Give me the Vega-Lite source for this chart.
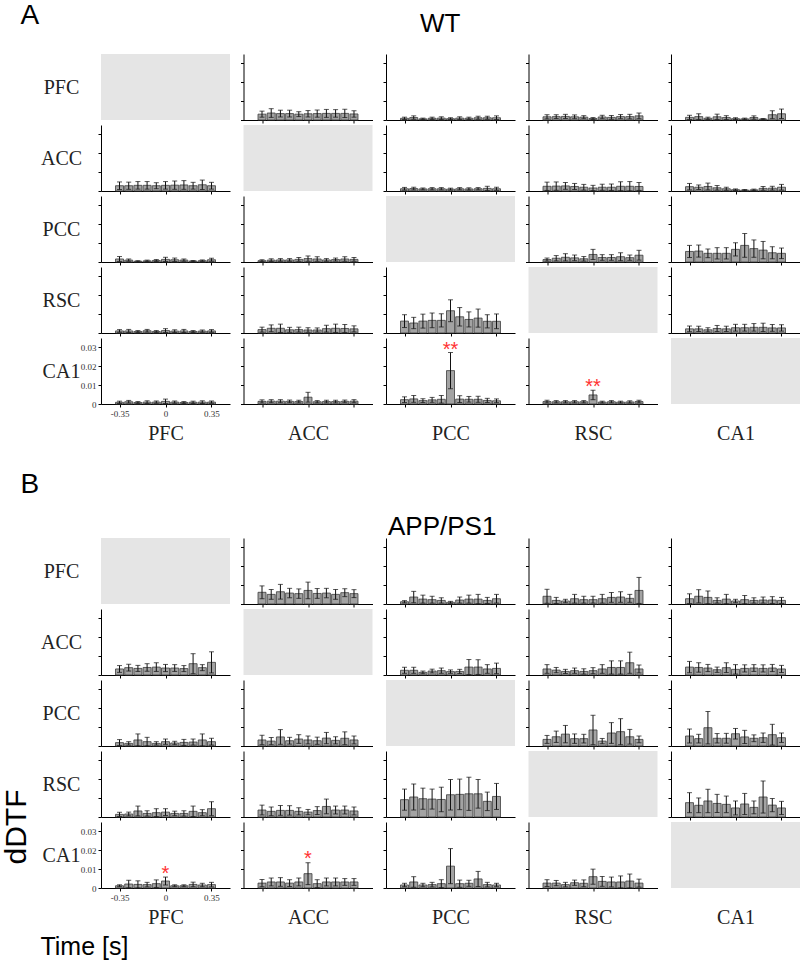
{
"$schema":"https://vega.github.io/schema/vega-lite/v6.json",
"padding":{"left":2,"top":2,"right":0,"bottom":0},
"datasets":{
"s":[
{"g":"A","r":"CA1","c":"PCC","t":0,"m":0.031,"s":"**"},
{"g":"A","r":"CA1","c":"RSC","t":0,"m":0.0113,"s":"**"},
{"g":"B","r":"CA1","c":"PFC","t":0,"m":0.0096,"s":"*"},
{"g":"B","r":"CA1","c":"ACC","t":0,"m":0.0176,"s":"*"}
],
"d":[
{"g":"A","r":"PFC","c":"ACC","t":-0.35,"m":0.0031,"e":0.0016},{"g":"A","r":"PFC","c":"ACC","t":-0.28,"m":0.0037,"e":0.0023},{"g":"A","r":"PFC","c":"ACC","t":-0.21,"m":0.0034,"e":0.0018},{"g":"A","r":"PFC","c":"ACC","t":-0.14,"m":0.0034,"e":0.0018},{"g":"A","r":"PFC","c":"ACC","t":-0.07,"m":0.0031,"e":0.0013},{"g":"A","r":"PFC","c":"ACC","t":0,"m":0.0033,"e":0.0017},{"g":"A","r":"PFC","c":"ACC","t":0.07,"m":0.0034,"e":0.0019},{"g":"A","r":"PFC","c":"ACC","t":0.14,"m":0.0035,"e":0.0021},{"g":"A","r":"PFC","c":"ACC","t":0.21,"m":0.0035,"e":0.002},{"g":"A","r":"PFC","c":"ACC","t":0.28,"m":0.0035,"e":0.0022},{"g":"A","r":"PFC","c":"ACC","t":0.35,"m":0.0032,"e":0.0017},
{"g":"A","r":"PFC","c":"PCC","t":-0.35,"m":0.0009,"e":0.0006},{"g":"A","r":"PFC","c":"PCC","t":-0.28,"m":0.0013,"e":0.0009},{"g":"A","r":"PFC","c":"PCC","t":-0.21,"m":0.0006,"e":0.0004},{"g":"A","r":"PFC","c":"PCC","t":-0.14,"m":0.0009,"e":0.0006},{"g":"A","r":"PFC","c":"PCC","t":-0.07,"m":0.001,"e":0.0007},{"g":"A","r":"PFC","c":"PCC","t":0,"m":0.0007,"e":0.0005},{"g":"A","r":"PFC","c":"PCC","t":0.07,"m":0.001,"e":0.0007},{"g":"A","r":"PFC","c":"PCC","t":0.14,"m":0.0009,"e":0.0006},{"g":"A","r":"PFC","c":"PCC","t":0.21,"m":0.0012,"e":0.0008},{"g":"A","r":"PFC","c":"PCC","t":0.28,"m":0.0012,"e":0.0008},{"g":"A","r":"PFC","c":"PCC","t":0.35,"m":0.0012,"e":0.001},
{"g":"A","r":"PFC","c":"RSC","t":-0.35,"m":0.0017,"e":0.0011},{"g":"A","r":"PFC","c":"RSC","t":-0.28,"m":0.0018,"e":0.001},{"g":"A","r":"PFC","c":"RSC","t":-0.21,"m":0.0019,"e":0.0011},{"g":"A","r":"PFC","c":"RSC","t":-0.14,"m":0.0017,"e":0.001},{"g":"A","r":"PFC","c":"RSC","t":-0.07,"m":0.0015,"e":0.0008},{"g":"A","r":"PFC","c":"RSC","t":0,"m":0.0008,"e":0.0005},{"g":"A","r":"PFC","c":"RSC","t":0.07,"m":0.0016,"e":0.0009},{"g":"A","r":"PFC","c":"RSC","t":0.14,"m":0.0014,"e":0.001},{"g":"A","r":"PFC","c":"RSC","t":0.21,"m":0.0018,"e":0.0011},{"g":"A","r":"PFC","c":"RSC","t":0.28,"m":0.0018,"e":0.0012},{"g":"A","r":"PFC","c":"RSC","t":0.35,"m":0.0022,"e":0.0015},
{"g":"A","r":"PFC","c":"CA1","t":-0.35,"m":0.0014,"e":0.0011},{"g":"A","r":"PFC","c":"CA1","t":-0.28,"m":0.0018,"e":0.0015},{"g":"A","r":"PFC","c":"CA1","t":-0.21,"m":0.0009,"e":0.0006},{"g":"A","r":"PFC","c":"CA1","t":-0.14,"m":0.0017,"e":0.0014},{"g":"A","r":"PFC","c":"CA1","t":-0.07,"m":0.0013,"e":0.001},{"g":"A","r":"PFC","c":"CA1","t":0,"m":0.0007,"e":0.0005},{"g":"A","r":"PFC","c":"CA1","t":0.07,"m":0.0006,"e":0.0004},{"g":"A","r":"PFC","c":"CA1","t":0.14,"m":0.0013,"e":0.0009},{"g":"A","r":"PFC","c":"CA1","t":0.21,"m":0.0005,"e":0.0003},{"g":"A","r":"PFC","c":"CA1","t":0.28,"m":0.0028,"e":0.0021},{"g":"A","r":"PFC","c":"CA1","t":0.35,"m":0.0033,"e":0.0025},
{"g":"A","r":"ACC","c":"PFC","t":-0.35,"m":0.0028,"e":0.002},{"g":"A","r":"ACC","c":"PFC","t":-0.28,"m":0.0028,"e":0.0019},{"g":"A","r":"ACC","c":"PFC","t":-0.21,"m":0.003,"e":0.002},{"g":"A","r":"ACC","c":"PFC","t":-0.14,"m":0.003,"e":0.002},{"g":"A","r":"ACC","c":"PFC","t":-0.07,"m":0.0028,"e":0.0016},{"g":"A","r":"ACC","c":"PFC","t":0,"m":0.003,"e":0.002},{"g":"A","r":"ACC","c":"PFC","t":0.07,"m":0.0031,"e":0.0022},{"g":"A","r":"ACC","c":"PFC","t":0.14,"m":0.0032,"e":0.0023},{"g":"A","r":"ACC","c":"PFC","t":0.21,"m":0.0028,"e":0.0018},{"g":"A","r":"ACC","c":"PFC","t":0.28,"m":0.0033,"e":0.0025},{"g":"A","r":"ACC","c":"PFC","t":0.35,"m":0.0028,"e":0.0018},
{"g":"A","r":"ACC","c":"PCC","t":-0.35,"m":0.0012,"e":0.0007},{"g":"A","r":"ACC","c":"PCC","t":-0.28,"m":0.0013,"e":0.0007},{"g":"A","r":"ACC","c":"PCC","t":-0.21,"m":0.0011,"e":0.0005},{"g":"A","r":"ACC","c":"PCC","t":-0.14,"m":0.0012,"e":0.0006},{"g":"A","r":"ACC","c":"PCC","t":-0.07,"m":0.0012,"e":0.0006},{"g":"A","r":"ACC","c":"PCC","t":0,"m":0.001,"e":0.0005},{"g":"A","r":"ACC","c":"PCC","t":0.07,"m":0.0012,"e":0.0006},{"g":"A","r":"ACC","c":"PCC","t":0.14,"m":0.0011,"e":0.0006},{"g":"A","r":"ACC","c":"PCC","t":0.21,"m":0.0012,"e":0.0006},{"g":"A","r":"ACC","c":"PCC","t":0.28,"m":0.0014,"e":0.0011},{"g":"A","r":"ACC","c":"PCC","t":0.35,"m":0.0012,"e":0.0008},
{"g":"A","r":"ACC","c":"RSC","t":-0.35,"m":0.0025,"e":0.0022},{"g":"A","r":"ACC","c":"RSC","t":-0.28,"m":0.0026,"e":0.0022},{"g":"A","r":"ACC","c":"RSC","t":-0.21,"m":0.0027,"e":0.0018},{"g":"A","r":"ACC","c":"RSC","t":-0.14,"m":0.0024,"e":0.0016},{"g":"A","r":"ACC","c":"RSC","t":-0.07,"m":0.002,"e":0.0015},{"g":"A","r":"ACC","c":"RSC","t":0,"m":0.0016,"e":0.0014},{"g":"A","r":"ACC","c":"RSC","t":0.07,"m":0.002,"e":0.0016},{"g":"A","r":"ACC","c":"RSC","t":0.14,"m":0.002,"e":0.0017},{"g":"A","r":"ACC","c":"RSC","t":0.21,"m":0.0025,"e":0.0024},{"g":"A","r":"ACC","c":"RSC","t":0.28,"m":0.0025,"e":0.0025},{"g":"A","r":"ACC","c":"RSC","t":0.35,"m":0.0024,"e":0.0021},
{"g":"A","r":"ACC","c":"CA1","t":-0.35,"m":0.0023,"e":0.0017},{"g":"A","r":"ACC","c":"CA1","t":-0.28,"m":0.002,"e":0.0012},{"g":"A","r":"ACC","c":"CA1","t":-0.21,"m":0.0024,"e":0.0018},{"g":"A","r":"ACC","c":"CA1","t":-0.14,"m":0.0017,"e":0.0012},{"g":"A","r":"ACC","c":"CA1","t":-0.07,"m":0.0012,"e":0.0008},{"g":"A","r":"ACC","c":"CA1","t":0,"m":0.0007,"e":0.0004},{"g":"A","r":"ACC","c":"CA1","t":0.07,"m":0.0005,"e":0.0003},{"g":"A","r":"ACC","c":"CA1","t":0.14,"m":0.0006,"e":0.0004},{"g":"A","r":"ACC","c":"CA1","t":0.21,"m":0.0014,"e":0.001},{"g":"A","r":"ACC","c":"CA1","t":0.28,"m":0.0015,"e":0.001},{"g":"A","r":"ACC","c":"CA1","t":0.35,"m":0.002,"e":0.0015},
{"g":"A","r":"PCC","c":"PFC","t":-0.35,"m":0.0016,"e":0.0013},{"g":"A","r":"PCC","c":"PFC","t":-0.28,"m":0.001,"e":0.0006},{"g":"A","r":"PCC","c":"PFC","t":-0.21,"m":0.0004,"e":0.0003},{"g":"A","r":"PCC","c":"PFC","t":-0.14,"m":0.0006,"e":0.0004},{"g":"A","r":"PCC","c":"PFC","t":-0.07,"m":0.0008,"e":0.0005},{"g":"A","r":"PCC","c":"PFC","t":0,"m":0.0014,"e":0.0011},{"g":"A","r":"PCC","c":"PFC","t":0.07,"m":0.0012,"e":0.0009},{"g":"A","r":"PCC","c":"PFC","t":0.14,"m":0.001,"e":0.0006},{"g":"A","r":"PCC","c":"PFC","t":0.21,"m":0.0005,"e":0.0003},{"g":"A","r":"PCC","c":"PFC","t":0.28,"m":0.0007,"e":0.0004},{"g":"A","r":"PCC","c":"PFC","t":0.35,"m":0.0012,"e":0.0008},
{"g":"A","r":"PCC","c":"ACC","t":-0.35,"m":0.0007,"e":0.0005},{"g":"A","r":"PCC","c":"ACC","t":-0.28,"m":0.001,"e":0.0007},{"g":"A","r":"PCC","c":"ACC","t":-0.21,"m":0.0011,"e":0.0007},{"g":"A","r":"PCC","c":"ACC","t":-0.14,"m":0.0011,"e":0.0007},{"g":"A","r":"PCC","c":"ACC","t":-0.07,"m":0.0014,"e":0.001},{"g":"A","r":"PCC","c":"ACC","t":0,"m":0.0018,"e":0.0014},{"g":"A","r":"PCC","c":"ACC","t":0.07,"m":0.0016,"e":0.0012},{"g":"A","r":"PCC","c":"ACC","t":0.14,"m":0.0011,"e":0.0007},{"g":"A","r":"PCC","c":"ACC","t":0.21,"m":0.0013,"e":0.0008},{"g":"A","r":"PCC","c":"ACC","t":0.28,"m":0.0016,"e":0.0012},{"g":"A","r":"PCC","c":"ACC","t":0.35,"m":0.0014,"e":0.001},
{"g":"A","r":"PCC","c":"RSC","t":-0.35,"m":0.0013,"e":0.0008},{"g":"A","r":"PCC","c":"RSC","t":-0.28,"m":0.002,"e":0.0014},{"g":"A","r":"PCC","c":"RSC","t":-0.21,"m":0.0025,"e":0.0019},{"g":"A","r":"PCC","c":"RSC","t":-0.14,"m":0.0022,"e":0.0015},{"g":"A","r":"PCC","c":"RSC","t":-0.07,"m":0.0017,"e":0.0012},{"g":"A","r":"PCC","c":"RSC","t":0,"m":0.004,"e":0.0027},{"g":"A","r":"PCC","c":"RSC","t":0.07,"m":0.0024,"e":0.0015},{"g":"A","r":"PCC","c":"RSC","t":0.14,"m":0.0024,"e":0.0015},{"g":"A","r":"PCC","c":"RSC","t":0.21,"m":0.0028,"e":0.0021},{"g":"A","r":"PCC","c":"RSC","t":0.28,"m":0.0023,"e":0.0014},{"g":"A","r":"PCC","c":"RSC","t":0.35,"m":0.0036,"e":0.0026},
{"g":"A","r":"PCC","c":"CA1","t":-0.35,"m":0.0056,"e":0.0032},{"g":"A","r":"PCC","c":"CA1","t":-0.28,"m":0.0058,"e":0.0032},{"g":"A","r":"PCC","c":"CA1","t":-0.21,"m":0.0046,"e":0.0023},{"g":"A","r":"PCC","c":"CA1","t":-0.14,"m":0.0046,"e":0.003},{"g":"A","r":"PCC","c":"CA1","t":-0.07,"m":0.0046,"e":0.003},{"g":"A","r":"PCC","c":"CA1","t":0,"m":0.0067,"e":0.0035},{"g":"A","r":"PCC","c":"CA1","t":0.07,"m":0.0088,"e":0.0063},{"g":"A","r":"PCC","c":"CA1","t":0.14,"m":0.0071,"e":0.0046},{"g":"A","r":"PCC","c":"CA1","t":0.21,"m":0.0063,"e":0.0046},{"g":"A","r":"PCC","c":"CA1","t":0.28,"m":0.0049,"e":0.0032},{"g":"A","r":"PCC","c":"CA1","t":0.35,"m":0.0046,"e":0.0028},
{"g":"A","r":"RSC","c":"PFC","t":-0.35,"m":0.0011,"e":0.0007},{"g":"A","r":"RSC","c":"PFC","t":-0.28,"m":0.0011,"e":0.0008},{"g":"A","r":"RSC","c":"PFC","t":-0.21,"m":0.0008,"e":0.0005},{"g":"A","r":"RSC","c":"PFC","t":-0.14,"m":0.0012,"e":0.0007},{"g":"A","r":"RSC","c":"PFC","t":-0.07,"m":0.0008,"e":0.0005},{"g":"A","r":"RSC","c":"PFC","t":0,"m":0.0013,"e":0.001},{"g":"A","r":"RSC","c":"PFC","t":0.07,"m":0.001,"e":0.0007},{"g":"A","r":"RSC","c":"PFC","t":0.14,"m":0.0011,"e":0.0008},{"g":"A","r":"RSC","c":"PFC","t":0.21,"m":0.0008,"e":0.0005},{"g":"A","r":"RSC","c":"PFC","t":0.28,"m":0.001,"e":0.0006},{"g":"A","r":"RSC","c":"PFC","t":0.35,"m":0.0011,"e":0.0007},
{"g":"A","r":"RSC","c":"ACC","t":-0.35,"m":0.0018,"e":0.0013},{"g":"A","r":"RSC","c":"ACC","t":-0.28,"m":0.0025,"e":0.0018},{"g":"A","r":"RSC","c":"ACC","t":-0.21,"m":0.0025,"e":0.0022},{"g":"A","r":"RSC","c":"ACC","t":-0.14,"m":0.0017,"e":0.0013},{"g":"A","r":"RSC","c":"ACC","t":-0.07,"m":0.0018,"e":0.0013},{"g":"A","r":"RSC","c":"ACC","t":0,"m":0.0016,"e":0.0012},{"g":"A","r":"RSC","c":"ACC","t":0.07,"m":0.0016,"e":0.0011},{"g":"A","r":"RSC","c":"ACC","t":0.14,"m":0.0023,"e":0.0018},{"g":"A","r":"RSC","c":"ACC","t":0.21,"m":0.0025,"e":0.0022},{"g":"A","r":"RSC","c":"ACC","t":0.28,"m":0.0024,"e":0.0021},{"g":"A","r":"RSC","c":"ACC","t":0.35,"m":0.0022,"e":0.0016},
{"g":"A","r":"RSC","c":"PCC","t":-0.35,"m":0.0063,"e":0.0034},{"g":"A","r":"RSC","c":"PCC","t":-0.28,"m":0.0053,"e":0.003},{"g":"A","r":"RSC","c":"PCC","t":-0.21,"m":0.0063,"e":0.0037},{"g":"A","r":"RSC","c":"PCC","t":-0.14,"m":0.0067,"e":0.0039},{"g":"A","r":"RSC","c":"PCC","t":-0.07,"m":0.0067,"e":0.0035},{"g":"A","r":"RSC","c":"PCC","t":0,"m":0.0118,"e":0.0058},{"g":"A","r":"RSC","c":"PCC","t":0.07,"m":0.0086,"e":0.0049},{"g":"A","r":"RSC","c":"PCC","t":0.14,"m":0.0072,"e":0.004},{"g":"A","r":"RSC","c":"PCC","t":0.21,"m":0.0079,"e":0.0048},{"g":"A","r":"RSC","c":"PCC","t":0.28,"m":0.0062,"e":0.0035},{"g":"A","r":"RSC","c":"PCC","t":0.35,"m":0.0062,"e":0.0039},
{"g":"A","r":"RSC","c":"CA1","t":-0.35,"m":0.0022,"e":0.0015},{"g":"A","r":"RSC","c":"CA1","t":-0.28,"m":0.0022,"e":0.0014},{"g":"A","r":"RSC","c":"CA1","t":-0.21,"m":0.0017,"e":0.0011},{"g":"A","r":"RSC","c":"CA1","t":-0.14,"m":0.0024,"e":0.0016},{"g":"A","r":"RSC","c":"CA1","t":-0.07,"m":0.0022,"e":0.0014},{"g":"A","r":"RSC","c":"CA1","t":0,"m":0.0028,"e":0.0018},{"g":"A","r":"RSC","c":"CA1","t":0.07,"m":0.0028,"e":0.0018},{"g":"A","r":"RSC","c":"CA1","t":0.14,"m":0.003,"e":0.002},{"g":"A","r":"RSC","c":"CA1","t":0.21,"m":0.003,"e":0.0022},{"g":"A","r":"RSC","c":"CA1","t":0.28,"m":0.0027,"e":0.0018},{"g":"A","r":"RSC","c":"CA1","t":0.35,"m":0.0027,"e":0.0017},
{"g":"A","r":"CA1","c":"PFC","t":-0.35,"m":0.0009,"e":0.0006},{"g":"A","r":"CA1","c":"PFC","t":-0.28,"m":0.0012,"e":0.0007},{"g":"A","r":"CA1","c":"PFC","t":-0.21,"m":0.0008,"e":0.0005},{"g":"A","r":"CA1","c":"PFC","t":-0.14,"m":0.001,"e":0.0007},{"g":"A","r":"CA1","c":"PFC","t":-0.07,"m":0.001,"e":0.0006},{"g":"A","r":"CA1","c":"PFC","t":0,"m":0.0014,"e":0.0012},{"g":"A","r":"CA1","c":"PFC","t":0.07,"m":0.001,"e":0.0006},{"g":"A","r":"CA1","c":"PFC","t":0.14,"m":0.0008,"e":0.0005},{"g":"A","r":"CA1","c":"PFC","t":0.21,"m":0.0009,"e":0.0006},{"g":"A","r":"CA1","c":"PFC","t":0.28,"m":0.001,"e":0.0007},{"g":"A","r":"CA1","c":"PFC","t":0.35,"m":0.001,"e":0.0006},
{"g":"A","r":"CA1","c":"ACC","t":-0.35,"m":0.0014,"e":0.0008},{"g":"A","r":"CA1","c":"ACC","t":-0.28,"m":0.0015,"e":0.0008},{"g":"A","r":"CA1","c":"ACC","t":-0.21,"m":0.0015,"e":0.0008},{"g":"A","r":"CA1","c":"ACC","t":-0.14,"m":0.0014,"e":0.0007},{"g":"A","r":"CA1","c":"ACC","t":-0.07,"m":0.0013,"e":0.0007},{"g":"A","r":"CA1","c":"ACC","t":0,"m":0.0036,"e":0.0026},{"g":"A","r":"CA1","c":"ACC","t":0.07,"m":0.0012,"e":0.0006},{"g":"A","r":"CA1","c":"ACC","t":0.14,"m":0.0013,"e":0.0007},{"g":"A","r":"CA1","c":"ACC","t":0.21,"m":0.0013,"e":0.0007},{"g":"A","r":"CA1","c":"ACC","t":0.28,"m":0.0014,"e":0.0007},{"g":"A","r":"CA1","c":"ACC","t":0.35,"m":0.0015,"e":0.0008},
{"g":"A","r":"CA1","c":"PCC","t":-0.35,"m":0.0023,"e":0.0015},{"g":"A","r":"CA1","c":"PCC","t":-0.28,"m":0.0027,"e":0.0018},{"g":"A","r":"CA1","c":"PCC","t":-0.21,"m":0.0018,"e":0.001},{"g":"A","r":"CA1","c":"PCC","t":-0.14,"m":0.0022,"e":0.0013},{"g":"A","r":"CA1","c":"PCC","t":-0.07,"m":0.0025,"e":0.002},{"g":"A","r":"CA1","c":"PCC","t":0,"m":0.0177,"e":0.0096},{"g":"A","r":"CA1","c":"PCC","t":0.07,"m":0.0026,"e":0.0018},{"g":"A","r":"CA1","c":"PCC","t":0.14,"m":0.0025,"e":0.0015},{"g":"A","r":"CA1","c":"PCC","t":0.21,"m":0.0025,"e":0.0016},{"g":"A","r":"CA1","c":"PCC","t":0.28,"m":0.0019,"e":0.0011},{"g":"A","r":"CA1","c":"PCC","t":0.35,"m":0.0017,"e":0.001},
{"g":"A","r":"CA1","c":"RSC","t":-0.35,"m":0.0013,"e":0.0007},{"g":"A","r":"CA1","c":"RSC","t":-0.28,"m":0.0012,"e":0.0006},{"g":"A","r":"CA1","c":"RSC","t":-0.21,"m":0.0012,"e":0.0006},{"g":"A","r":"CA1","c":"RSC","t":-0.14,"m":0.0012,"e":0.0006},{"g":"A","r":"CA1","c":"RSC","t":-0.07,"m":0.0012,"e":0.0006},{"g":"A","r":"CA1","c":"RSC","t":0,"m":0.0048,"e":0.0025},{"g":"A","r":"CA1","c":"RSC","t":0.07,"m":0.001,"e":0.0005},{"g":"A","r":"CA1","c":"RSC","t":0.14,"m":0.0012,"e":0.0006},{"g":"A","r":"CA1","c":"RSC","t":0.21,"m":0.001,"e":0.0005},{"g":"A","r":"CA1","c":"RSC","t":0.28,"m":0.0011,"e":0.0006},{"g":"A","r":"CA1","c":"RSC","t":0.35,"m":0.0013,"e":0.0007},
{"g":"B","r":"PFC","c":"ACC","t":-0.35,"m":0.0062,"e":0.0034},{"g":"B","r":"PFC","c":"ACC","t":-0.28,"m":0.0051,"e":0.0026},{"g":"B","r":"PFC","c":"ACC","t":-0.21,"m":0.0065,"e":0.0039},{"g":"B","r":"PFC","c":"ACC","t":-0.14,"m":0.0058,"e":0.0025},{"g":"B","r":"PFC","c":"ACC","t":-0.07,"m":0.0055,"e":0.0025},{"g":"B","r":"PFC","c":"ACC","t":0,"m":0.0072,"e":0.0044},{"g":"B","r":"PFC","c":"ACC","t":0.07,"m":0.0056,"e":0.0026},{"g":"B","r":"PFC","c":"ACC","t":0.14,"m":0.0058,"e":0.0025},{"g":"B","r":"PFC","c":"ACC","t":0.21,"m":0.0051,"e":0.0026},{"g":"B","r":"PFC","c":"ACC","t":0.28,"m":0.006,"e":0.0021},{"g":"B","r":"PFC","c":"ACC","t":0.35,"m":0.0055,"e":0.0021},
{"g":"B","r":"PFC","c":"PCC","t":-0.35,"m":0.0012,"e":0.0006},{"g":"B","r":"PFC","c":"PCC","t":-0.28,"m":0.0037,"e":0.003},{"g":"B","r":"PFC","c":"PCC","t":-0.21,"m":0.0026,"e":0.0021},{"g":"B","r":"PFC","c":"PCC","t":-0.14,"m":0.0023,"e":0.0018},{"g":"B","r":"PFC","c":"PCC","t":-0.07,"m":0.0019,"e":0.0014},{"g":"B","r":"PFC","c":"PCC","t":0,"m":0.0009,"e":0.0005},{"g":"B","r":"PFC","c":"PCC","t":0.07,"m":0.0021,"e":0.0016},{"g":"B","r":"PFC","c":"PCC","t":0.14,"m":0.0026,"e":0.0021},{"g":"B","r":"PFC","c":"PCC","t":0.21,"m":0.0026,"e":0.0025},{"g":"B","r":"PFC","c":"PCC","t":0.28,"m":0.0019,"e":0.0016},{"g":"B","r":"PFC","c":"PCC","t":0.35,"m":0.0028,"e":0.0023},
{"g":"B","r":"PFC","c":"RSC","t":-0.35,"m":0.0041,"e":0.0037},{"g":"B","r":"PFC","c":"RSC","t":-0.28,"m":0.0019,"e":0.0016},{"g":"B","r":"PFC","c":"RSC","t":-0.21,"m":0.0016,"e":0.0009},{"g":"B","r":"PFC","c":"RSC","t":-0.14,"m":0.0028,"e":0.0023},{"g":"B","r":"PFC","c":"RSC","t":-0.07,"m":0.0023,"e":0.0018},{"g":"B","r":"PFC","c":"RSC","t":0,"m":0.0023,"e":0.0018},{"g":"B","r":"PFC","c":"RSC","t":0.07,"m":0.0028,"e":0.0023},{"g":"B","r":"PFC","c":"RSC","t":0.14,"m":0.0035,"e":0.0026},{"g":"B","r":"PFC","c":"RSC","t":0.21,"m":0.0037,"e":0.0028},{"g":"B","r":"PFC","c":"RSC","t":0.28,"m":0.003,"e":0.0021},{"g":"B","r":"PFC","c":"RSC","t":0.35,"m":0.0072,"e":0.0069},
{"g":"B","r":"PFC","c":"CA1","t":-0.35,"m":0.0028,"e":0.0026},{"g":"B","r":"PFC","c":"CA1","t":-0.28,"m":0.0041,"e":0.0035},{"g":"B","r":"PFC","c":"CA1","t":-0.21,"m":0.0035,"e":0.0034},{"g":"B","r":"PFC","c":"CA1","t":-0.14,"m":0.0019,"e":0.0014},{"g":"B","r":"PFC","c":"CA1","t":-0.07,"m":0.0026,"e":0.0025},{"g":"B","r":"PFC","c":"CA1","t":0,"m":0.0016,"e":0.0009},{"g":"B","r":"PFC","c":"CA1","t":0.07,"m":0.0023,"e":0.0022},{"g":"B","r":"PFC","c":"CA1","t":0.14,"m":0.0019,"e":0.0014},{"g":"B","r":"PFC","c":"CA1","t":0.21,"m":0.0021,"e":0.0016},{"g":"B","r":"PFC","c":"CA1","t":0.28,"m":0.0021,"e":0.0018},{"g":"B","r":"PFC","c":"CA1","t":0.35,"m":0.0019,"e":0.0016},
{"g":"B","r":"ACC","c":"PFC","t":-0.35,"m":0.0032,"e":0.0018},{"g":"B","r":"ACC","c":"PFC","t":-0.28,"m":0.0039,"e":0.0018},{"g":"B","r":"ACC","c":"PFC","t":-0.21,"m":0.0035,"e":0.0016},{"g":"B","r":"ACC","c":"PFC","t":-0.14,"m":0.004,"e":0.002},{"g":"B","r":"ACC","c":"PFC","t":-0.07,"m":0.0042,"e":0.0023},{"g":"B","r":"ACC","c":"PFC","t":0,"m":0.0037,"e":0.0019},{"g":"B","r":"ACC","c":"PFC","t":0.07,"m":0.0037,"e":0.0018},{"g":"B","r":"ACC","c":"PFC","t":0.14,"m":0.0034,"e":0.0016},{"g":"B","r":"ACC","c":"PFC","t":0.21,"m":0.006,"e":0.0053},{"g":"B","r":"ACC","c":"PFC","t":0.28,"m":0.0039,"e":0.0016},{"g":"B","r":"ACC","c":"PFC","t":0.35,"m":0.0067,"e":0.0056},
{"g":"B","r":"ACC","c":"PCC","t":-0.35,"m":0.0025,"e":0.0016},{"g":"B","r":"ACC","c":"PCC","t":-0.28,"m":0.0025,"e":0.0016},{"g":"B","r":"ACC","c":"PCC","t":-0.21,"m":0.0014,"e":0.0007},{"g":"B","r":"ACC","c":"PCC","t":-0.14,"m":0.0021,"e":0.001},{"g":"B","r":"ACC","c":"PCC","t":-0.07,"m":0.0023,"e":0.0014},{"g":"B","r":"ACC","c":"PCC","t":0,"m":0.0018,"e":0.0009},{"g":"B","r":"ACC","c":"PCC","t":0.07,"m":0.0019,"e":0.0011},{"g":"B","r":"ACC","c":"PCC","t":0.14,"m":0.0042,"e":0.004},{"g":"B","r":"ACC","c":"PCC","t":0.21,"m":0.0042,"e":0.0039},{"g":"B","r":"ACC","c":"PCC","t":0.28,"m":0.0032,"e":0.0023},{"g":"B","r":"ACC","c":"PCC","t":0.35,"m":0.0035,"e":0.0028},
{"g":"B","r":"ACC","c":"RSC","t":-0.35,"m":0.0032,"e":0.0023},{"g":"B","r":"ACC","c":"RSC","t":-0.28,"m":0.0026,"e":0.0014},{"g":"B","r":"ACC","c":"RSC","t":-0.21,"m":0.0019,"e":0.0011},{"g":"B","r":"ACC","c":"RSC","t":-0.14,"m":0.0023,"e":0.0014},{"g":"B","r":"ACC","c":"RSC","t":-0.07,"m":0.0019,"e":0.0014},{"g":"B","r":"ACC","c":"RSC","t":0,"m":0.0023,"e":0.0016},{"g":"B","r":"ACC","c":"RSC","t":0.07,"m":0.0032,"e":0.0023},{"g":"B","r":"ACC","c":"RSC","t":0.14,"m":0.004,"e":0.0035},{"g":"B","r":"ACC","c":"RSC","t":0.21,"m":0.004,"e":0.0035},{"g":"B","r":"ACC","c":"RSC","t":0.28,"m":0.0065,"e":0.0056},{"g":"B","r":"ACC","c":"RSC","t":0.35,"m":0.0032,"e":0.0021},
{"g":"B","r":"ACC","c":"CA1","t":-0.35,"m":0.0042,"e":0.003},{"g":"B","r":"ACC","c":"CA1","t":-0.28,"m":0.004,"e":0.0025},{"g":"B","r":"ACC","c":"CA1","t":-0.21,"m":0.0037,"e":0.0019},{"g":"B","r":"ACC","c":"CA1","t":-0.14,"m":0.0028,"e":0.0014},{"g":"B","r":"ACC","c":"CA1","t":-0.07,"m":0.0039,"e":0.0026},{"g":"B","r":"ACC","c":"CA1","t":0,"m":0.003,"e":0.0025},{"g":"B","r":"ACC","c":"CA1","t":0.07,"m":0.0035,"e":0.0019},{"g":"B","r":"ACC","c":"CA1","t":0.14,"m":0.0037,"e":0.0018},{"g":"B","r":"ACC","c":"CA1","t":0.21,"m":0.0035,"e":0.0019},{"g":"B","r":"ACC","c":"CA1","t":0.28,"m":0.0037,"e":0.0019},{"g":"B","r":"ACC","c":"CA1","t":0.35,"m":0.0032,"e":0.0019},
{"g":"B","r":"PCC","c":"PFC","t":-0.35,"m":0.0018,"e":0.0016},{"g":"B","r":"PCC","c":"PFC","t":-0.28,"m":0.0014,"e":0.0009},{"g":"B","r":"PCC","c":"PFC","t":-0.21,"m":0.0032,"e":0.0032},{"g":"B","r":"PCC","c":"PFC","t":-0.14,"m":0.0023,"e":0.0023},{"g":"B","r":"PCC","c":"PFC","t":-0.07,"m":0.0014,"e":0.0009},{"g":"B","r":"PCC","c":"PFC","t":0,"m":0.0023,"e":0.0014},{"g":"B","r":"PCC","c":"PFC","t":0.07,"m":0.0016,"e":0.0009},{"g":"B","r":"PCC","c":"PFC","t":0.14,"m":0.0019,"e":0.0016},{"g":"B","r":"PCC","c":"PFC","t":0.21,"m":0.0021,"e":0.0016},{"g":"B","r":"PCC","c":"PFC","t":0.28,"m":0.0032,"e":0.0032},{"g":"B","r":"PCC","c":"PFC","t":0.35,"m":0.0023,"e":0.0018},
{"g":"B","r":"PCC","c":"ACC","t":-0.35,"m":0.0032,"e":0.0025},{"g":"B","r":"PCC","c":"ACC","t":-0.28,"m":0.0026,"e":0.0019},{"g":"B","r":"PCC","c":"ACC","t":-0.21,"m":0.0048,"e":0.0039},{"g":"B","r":"PCC","c":"ACC","t":-0.14,"m":0.0028,"e":0.0018},{"g":"B","r":"PCC","c":"ACC","t":-0.07,"m":0.0037,"e":0.0023},{"g":"B","r":"PCC","c":"ACC","t":0,"m":0.0032,"e":0.0021},{"g":"B","r":"PCC","c":"ACC","t":0.07,"m":0.0028,"e":0.0019},{"g":"B","r":"PCC","c":"ACC","t":0.14,"m":0.0042,"e":0.003},{"g":"B","r":"PCC","c":"ACC","t":0.21,"m":0.003,"e":0.0019},{"g":"B","r":"PCC","c":"ACC","t":0.28,"m":0.0041,"e":0.0034},{"g":"B","r":"PCC","c":"ACC","t":0.35,"m":0.0032,"e":0.0021},
{"g":"B","r":"PCC","c":"RSC","t":-0.35,"m":0.0035,"e":0.0021},{"g":"B","r":"PCC","c":"RSC","t":-0.28,"m":0.0049,"e":0.003},{"g":"B","r":"PCC","c":"RSC","t":-0.21,"m":0.0063,"e":0.0046},{"g":"B","r":"PCC","c":"RSC","t":-0.14,"m":0.0039,"e":0.0025},{"g":"B","r":"PCC","c":"RSC","t":-0.07,"m":0.0039,"e":0.0023},{"g":"B","r":"PCC","c":"RSC","t":0,"m":0.0085,"e":0.0078},{"g":"B","r":"PCC","c":"RSC","t":0.07,"m":0.0026,"e":0.0014},{"g":"B","r":"PCC","c":"RSC","t":0.14,"m":0.0069,"e":0.0055},{"g":"B","r":"PCC","c":"RSC","t":0.21,"m":0.0076,"e":0.0069},{"g":"B","r":"PCC","c":"RSC","t":0.28,"m":0.0049,"e":0.0039},{"g":"B","r":"PCC","c":"RSC","t":0.35,"m":0.0035,"e":0.0018},
{"g":"B","r":"PCC","c":"CA1","t":-0.35,"m":0.0053,"e":0.0037},{"g":"B","r":"PCC","c":"CA1","t":-0.28,"m":0.0039,"e":0.0023},{"g":"B","r":"PCC","c":"CA1","t":-0.21,"m":0.0097,"e":0.0086},{"g":"B","r":"PCC","c":"CA1","t":-0.14,"m":0.0041,"e":0.0025},{"g":"B","r":"PCC","c":"CA1","t":-0.07,"m":0.0041,"e":0.0026},{"g":"B","r":"PCC","c":"CA1","t":0,"m":0.0065,"e":0.0028},{"g":"B","r":"PCC","c":"CA1","t":0.07,"m":0.0048,"e":0.0035},{"g":"B","r":"PCC","c":"CA1","t":0.14,"m":0.0041,"e":0.0018},{"g":"B","r":"PCC","c":"CA1","t":0.21,"m":0.0044,"e":0.0025},{"g":"B","r":"PCC","c":"CA1","t":0.28,"m":0.006,"e":0.0055},{"g":"B","r":"PCC","c":"CA1","t":0.35,"m":0.0044,"e":0.0025},
{"g":"B","r":"RSC","c":"PFC","t":-0.35,"m":0.0014,"e":0.0011},{"g":"B","r":"RSC","c":"PFC","t":-0.28,"m":0.0016,"e":0.001},{"g":"B","r":"RSC","c":"PFC","t":-0.21,"m":0.0032,"e":0.0026},{"g":"B","r":"RSC","c":"PFC","t":-0.14,"m":0.0019,"e":0.0014},{"g":"B","r":"RSC","c":"PFC","t":-0.07,"m":0.0023,"e":0.0021},{"g":"B","r":"RSC","c":"PFC","t":0,"m":0.0026,"e":0.0018},{"g":"B","r":"RSC","c":"PFC","t":0.07,"m":0.0019,"e":0.0012},{"g":"B","r":"RSC","c":"PFC","t":0.14,"m":0.0019,"e":0.0014},{"g":"B","r":"RSC","c":"PFC","t":0.21,"m":0.003,"e":0.0028},{"g":"B","r":"RSC","c":"PFC","t":0.28,"m":0.0023,"e":0.0016},{"g":"B","r":"RSC","c":"PFC","t":0.35,"m":0.0044,"e":0.0037},
{"g":"B","r":"RSC","c":"ACC","t":-0.35,"m":0.0037,"e":0.0026},{"g":"B","r":"RSC","c":"ACC","t":-0.28,"m":0.003,"e":0.0023},{"g":"B","r":"RSC","c":"ACC","t":-0.21,"m":0.0035,"e":0.0026},{"g":"B","r":"RSC","c":"ACC","t":-0.14,"m":0.0035,"e":0.0025},{"g":"B","r":"RSC","c":"ACC","t":-0.07,"m":0.003,"e":0.0019},{"g":"B","r":"RSC","c":"ACC","t":0,"m":0.0026,"e":0.0014},{"g":"B","r":"RSC","c":"ACC","t":0.07,"m":0.0034,"e":0.0021},{"g":"B","r":"RSC","c":"ACC","t":0.14,"m":0.0056,"e":0.0039},{"g":"B","r":"RSC","c":"ACC","t":0.21,"m":0.0037,"e":0.0021},{"g":"B","r":"RSC","c":"ACC","t":0.28,"m":0.0037,"e":0.0021},{"g":"B","r":"RSC","c":"ACC","t":0.35,"m":0.0032,"e":0.0021},
{"g":"B","r":"RSC","c":"PCC","t":-0.35,"m":0.0092,"e":0.0056},{"g":"B","r":"RSC","c":"PCC","t":-0.28,"m":0.0106,"e":0.0069},{"g":"B","r":"RSC","c":"PCC","t":-0.21,"m":0.0097,"e":0.0056},{"g":"B","r":"RSC","c":"PCC","t":-0.14,"m":0.0095,"e":0.0053},{"g":"B","r":"RSC","c":"PCC","t":-0.07,"m":0.0093,"e":0.0065},{"g":"B","r":"RSC","c":"PCC","t":0,"m":0.0118,"e":0.0081},{"g":"B","r":"RSC","c":"PCC","t":0.07,"m":0.012,"e":0.0081},{"g":"B","r":"RSC","c":"PCC","t":0.14,"m":0.0123,"e":0.0088},{"g":"B","r":"RSC","c":"PCC","t":0.21,"m":0.0123,"e":0.0076},{"g":"B","r":"RSC","c":"PCC","t":0.28,"m":0.0083,"e":0.0049},{"g":"B","r":"RSC","c":"PCC","t":0.35,"m":0.0109,"e":0.0069},
{"g":"B","r":"RSC","c":"CA1","t":-0.35,"m":0.0076,"e":0.0053},{"g":"B","r":"RSC","c":"CA1","t":-0.28,"m":0.0062,"e":0.0039},{"g":"B","r":"RSC","c":"CA1","t":-0.21,"m":0.0085,"e":0.0062},{"g":"B","r":"RSC","c":"CA1","t":-0.14,"m":0.0072,"e":0.0048},{"g":"B","r":"RSC","c":"CA1","t":-0.07,"m":0.0067,"e":0.0044},{"g":"B","r":"RSC","c":"CA1","t":0,"m":0.0048,"e":0.0037},{"g":"B","r":"RSC","c":"CA1","t":0.07,"m":0.0069,"e":0.0056},{"g":"B","r":"RSC","c":"CA1","t":0.14,"m":0.0051,"e":0.0034},{"g":"B","r":"RSC","c":"CA1","t":0.21,"m":0.0106,"e":0.0085},{"g":"B","r":"RSC","c":"CA1","t":0.28,"m":0.0063,"e":0.0035},{"g":"B","r":"RSC","c":"CA1","t":0.35,"m":0.0048,"e":0.0035},
{"g":"B","r":"CA1","c":"PFC","t":-0.35,"m":0.0012,"e":0.0005},{"g":"B","r":"CA1","c":"PFC","t":-0.28,"m":0.0021,"e":0.002},{"g":"B","r":"CA1","c":"PFC","t":-0.21,"m":0.0019,"e":0.0019},{"g":"B","r":"CA1","c":"PFC","t":-0.14,"m":0.0018,"e":0.0012},{"g":"B","r":"CA1","c":"PFC","t":-0.07,"m":0.0023,"e":0.002},{"g":"B","r":"CA1","c":"PFC","t":0,"m":0.0037,"e":0.0021},{"g":"B","r":"CA1","c":"PFC","t":0.07,"m":0.0012,"e":0.0005},{"g":"B","r":"CA1","c":"PFC","t":0.14,"m":0.0012,"e":0.0005},{"g":"B","r":"CA1","c":"PFC","t":0.21,"m":0.0019,"e":0.0012},{"g":"B","r":"CA1","c":"PFC","t":0.28,"m":0.0016,"e":0.0009},{"g":"B","r":"CA1","c":"PFC","t":0.35,"m":0.0018,"e":0.0012},
{"g":"B","r":"CA1","c":"ACC","t":-0.35,"m":0.0026,"e":0.0019},{"g":"B","r":"CA1","c":"ACC","t":-0.28,"m":0.0032,"e":0.0021},{"g":"B","r":"CA1","c":"ACC","t":-0.21,"m":0.0032,"e":0.0023},{"g":"B","r":"CA1","c":"ACC","t":-0.14,"m":0.0026,"e":0.0018},{"g":"B","r":"CA1","c":"ACC","t":-0.07,"m":0.0032,"e":0.0021},{"g":"B","r":"CA1","c":"ACC","t":0,"m":0.0076,"e":0.0058},{"g":"B","r":"CA1","c":"ACC","t":0.07,"m":0.0023,"e":0.0021},{"g":"B","r":"CA1","c":"ACC","t":0.14,"m":0.0032,"e":0.0021},{"g":"B","r":"CA1","c":"ACC","t":0.21,"m":0.0032,"e":0.0021},{"g":"B","r":"CA1","c":"ACC","t":0.28,"m":0.0032,"e":0.0018},{"g":"B","r":"CA1","c":"ACC","t":0.35,"m":0.0032,"e":0.0018},
{"g":"B","r":"CA1","c":"PCC","t":-0.35,"m":0.0016,"e":0.0009},{"g":"B","r":"CA1","c":"PCC","t":-0.28,"m":0.0032,"e":0.0028},{"g":"B","r":"CA1","c":"PCC","t":-0.21,"m":0.0016,"e":0.0009},{"g":"B","r":"CA1","c":"PCC","t":-0.14,"m":0.0018,"e":0.0012},{"g":"B","r":"CA1","c":"PCC","t":-0.07,"m":0.0023,"e":0.0021},{"g":"B","r":"CA1","c":"PCC","t":0,"m":0.0116,"e":0.0093},{"g":"B","r":"CA1","c":"PCC","t":0.07,"m":0.0023,"e":0.0019},{"g":"B","r":"CA1","c":"PCC","t":0.14,"m":0.0025,"e":0.0016},{"g":"B","r":"CA1","c":"PCC","t":0.21,"m":0.0048,"e":0.004},{"g":"B","r":"CA1","c":"PCC","t":0.28,"m":0.0018,"e":0.0012},{"g":"B","r":"CA1","c":"PCC","t":0.35,"m":0.0016,"e":0.0009},
{"g":"B","r":"CA1","c":"RSC","t":-0.35,"m":0.0026,"e":0.0018},{"g":"B","r":"CA1","c":"RSC","t":-0.28,"m":0.0026,"e":0.0014},{"g":"B","r":"CA1","c":"RSC","t":-0.21,"m":0.0018,"e":0.0012},{"g":"B","r":"CA1","c":"RSC","t":-0.14,"m":0.0028,"e":0.0014},{"g":"B","r":"CA1","c":"RSC","t":-0.07,"m":0.0025,"e":0.0018},{"g":"B","r":"CA1","c":"RSC","t":0,"m":0.006,"e":0.004},{"g":"B","r":"CA1","c":"RSC","t":0.07,"m":0.0035,"e":0.0026},{"g":"B","r":"CA1","c":"RSC","t":0.14,"m":0.0032,"e":0.0026},{"g":"B","r":"CA1","c":"RSC","t":0.21,"m":0.0032,"e":0.0032},{"g":"B","r":"CA1","c":"RSC","t":0.28,"m":0.0037,"e":0.0037},{"g":"B","r":"CA1","c":"RSC","t":0.35,"m":0.0026,"e":0.0021}
]},
"data":{"name":"d"},
"config":{
"view":{"stroke":null},
"font":"Liberation Sans",
"axis":{"domainColor":"#000","tickColor":"#000","tickSize":3,"grid":false,"labelFont":"Liberation Serif","labelFontSize":9,"labelColor":"#333","titleFont":"Liberation Serif","titleFontSize":20,"titleFontWeight":"normal","titleColor":"#222","domainWidth":1,"tickWidth":1},
"axisLeft":{"titleAngle":0,"titleAlign":"center","titleBaseline":"middle","titleX":-40,"titleY":33},
"axisBottom":{"titleBaseline":"middle","titleY":29},
"bar":{"fill":"#a3a3a3","stroke":"#3c3c3c","strokeWidth":0.8,"continuousBandSize":8},
"errorbar":{"ticks":{"color":"#111","strokeWidth":1},"size":5,"thickness":1,"rule":{"color":"#111","strokeWidth":1}},
"title":{"font":"Liberation Sans","fontWeight":"normal","color":"#000"}
},
"title":{"text":"dDTF","orient":"left","fontSize":30,"anchor":"middle","frame":"group","offset":-12,"dx":-773},
"spacing":28,
"vconcat":[
{"title":{"text":"A","anchor":"start","frame":"bounds","fontSize":28,"dx":-20,"dy":23},"vconcat":[
{"title":{"text":"WT","fontSize":26,"anchor":"middle","frame":"bounds","dx":20,"offset":17},"columns":5,"spacing":{"row":5,"column":13.5},"bounds":"flush","align":"all","concat":[
{"width":129,"height":66,"view":{"fill":"#e5e5e5"},"transform":[{"filter":"false"}],"mark":"point","encoding":{"x":{"field":"t","type":"quantitative","scale":{"domain":[-0.43,0.43]},"axis":null},"y":{"field":"m","type":"quantitative","scale":{"domain":[0,0.035]},"axis":{"title":"PFC","domain":false,"ticks":false,"labels":false}}}},
{"width":129,"height":66,"transform":[{"filter":"datum.g=='A'&&datum.r=='PFC'&&datum.c=='ACC'"}],"encoding":{"x":{"field":"t","type":"quantitative","scale":{"domain":[-0.43,0.43]},"axis":{"values":[-0.35,0,0.35],"labels":false,"title":null}},"y":{"field":"m","type":"quantitative","scale":{"domain":[0,0.035]},"axis":{"values":[0,0.01,0.02,0.03],"labels":false,"title":null}}},"layer":[{"mark":"bar"},{"mark":"errorbar","encoding":{"yError":{"field":"e"}}}]},
{"width":129,"height":66,"transform":[{"filter":"datum.g=='A'&&datum.r=='PFC'&&datum.c=='PCC'"}],"encoding":{"x":{"field":"t","type":"quantitative","scale":{"domain":[-0.43,0.43]},"axis":{"values":[-0.35,0,0.35],"labels":false,"title":null}},"y":{"field":"m","type":"quantitative","scale":{"domain":[0,0.035]},"axis":{"values":[0,0.01,0.02,0.03],"labels":false,"title":null}}},"layer":[{"mark":"bar"},{"mark":"errorbar","encoding":{"yError":{"field":"e"}}}]},
{"width":129,"height":66,"transform":[{"filter":"datum.g=='A'&&datum.r=='PFC'&&datum.c=='RSC'"}],"encoding":{"x":{"field":"t","type":"quantitative","scale":{"domain":[-0.43,0.43]},"axis":{"values":[-0.35,0,0.35],"labels":false,"title":null}},"y":{"field":"m","type":"quantitative","scale":{"domain":[0,0.035]},"axis":{"values":[0,0.01,0.02,0.03],"labels":false,"title":null}}},"layer":[{"mark":"bar"},{"mark":"errorbar","encoding":{"yError":{"field":"e"}}}]},
{"width":129,"height":66,"transform":[{"filter":"datum.g=='A'&&datum.r=='PFC'&&datum.c=='CA1'"}],"encoding":{"x":{"field":"t","type":"quantitative","scale":{"domain":[-0.43,0.43]},"axis":{"values":[-0.35,0,0.35],"labels":false,"title":null}},"y":{"field":"m","type":"quantitative","scale":{"domain":[0,0.035]},"axis":{"values":[0,0.01,0.02,0.03],"labels":false,"title":null}}},"layer":[{"mark":"bar"},{"mark":"errorbar","encoding":{"yError":{"field":"e"}}}]},
{"width":129,"height":66,"transform":[{"filter":"datum.g=='A'&&datum.r=='ACC'&&datum.c=='PFC'"}],"encoding":{"x":{"field":"t","type":"quantitative","scale":{"domain":[-0.43,0.43]},"axis":{"values":[-0.35,0,0.35],"labels":false,"title":null}},"y":{"field":"m","type":"quantitative","scale":{"domain":[0,0.035]},"axis":{"values":[0,0.01,0.02,0.03],"labels":false,"title":"ACC"}}},"layer":[{"mark":"bar"},{"mark":"errorbar","encoding":{"yError":{"field":"e"}}}]},
{"width":129,"height":66,"view":{"fill":"#e5e5e5"},"transform":[{"filter":"false"}],"mark":"point","encoding":{"x":{"field":"t","type":"quantitative","scale":{"domain":[-0.43,0.43]},"axis":null},"y":{"field":"m","type":"quantitative","scale":{"domain":[0,0.035]},"axis":null}}},
{"width":129,"height":66,"transform":[{"filter":"datum.g=='A'&&datum.r=='ACC'&&datum.c=='PCC'"}],"encoding":{"x":{"field":"t","type":"quantitative","scale":{"domain":[-0.43,0.43]},"axis":{"values":[-0.35,0,0.35],"labels":false,"title":null}},"y":{"field":"m","type":"quantitative","scale":{"domain":[0,0.035]},"axis":{"values":[0,0.01,0.02,0.03],"labels":false,"title":null}}},"layer":[{"mark":"bar"},{"mark":"errorbar","encoding":{"yError":{"field":"e"}}}]},
{"width":129,"height":66,"transform":[{"filter":"datum.g=='A'&&datum.r=='ACC'&&datum.c=='RSC'"}],"encoding":{"x":{"field":"t","type":"quantitative","scale":{"domain":[-0.43,0.43]},"axis":{"values":[-0.35,0,0.35],"labels":false,"title":null}},"y":{"field":"m","type":"quantitative","scale":{"domain":[0,0.035]},"axis":{"values":[0,0.01,0.02,0.03],"labels":false,"title":null}}},"layer":[{"mark":"bar"},{"mark":"errorbar","encoding":{"yError":{"field":"e"}}}]},
{"width":129,"height":66,"transform":[{"filter":"datum.g=='A'&&datum.r=='ACC'&&datum.c=='CA1'"}],"encoding":{"x":{"field":"t","type":"quantitative","scale":{"domain":[-0.43,0.43]},"axis":{"values":[-0.35,0,0.35],"labels":false,"title":null}},"y":{"field":"m","type":"quantitative","scale":{"domain":[0,0.035]},"axis":{"values":[0,0.01,0.02,0.03],"labels":false,"title":null}}},"layer":[{"mark":"bar"},{"mark":"errorbar","encoding":{"yError":{"field":"e"}}}]},
{"width":129,"height":66,"transform":[{"filter":"datum.g=='A'&&datum.r=='PCC'&&datum.c=='PFC'"}],"encoding":{"x":{"field":"t","type":"quantitative","scale":{"domain":[-0.43,0.43]},"axis":{"values":[-0.35,0,0.35],"labels":false,"title":null}},"y":{"field":"m","type":"quantitative","scale":{"domain":[0,0.035]},"axis":{"values":[0,0.01,0.02,0.03],"labels":false,"title":"PCC"}}},"layer":[{"mark":"bar"},{"mark":"errorbar","encoding":{"yError":{"field":"e"}}}]},
{"width":129,"height":66,"transform":[{"filter":"datum.g=='A'&&datum.r=='PCC'&&datum.c=='ACC'"}],"encoding":{"x":{"field":"t","type":"quantitative","scale":{"domain":[-0.43,0.43]},"axis":{"values":[-0.35,0,0.35],"labels":false,"title":null}},"y":{"field":"m","type":"quantitative","scale":{"domain":[0,0.035]},"axis":{"values":[0,0.01,0.02,0.03],"labels":false,"title":null}}},"layer":[{"mark":"bar"},{"mark":"errorbar","encoding":{"yError":{"field":"e"}}}]},
{"width":129,"height":66,"view":{"fill":"#e5e5e5"},"transform":[{"filter":"false"}],"mark":"point","encoding":{"x":{"field":"t","type":"quantitative","scale":{"domain":[-0.43,0.43]},"axis":null},"y":{"field":"m","type":"quantitative","scale":{"domain":[0,0.035]},"axis":null}}},
{"width":129,"height":66,"transform":[{"filter":"datum.g=='A'&&datum.r=='PCC'&&datum.c=='RSC'"}],"encoding":{"x":{"field":"t","type":"quantitative","scale":{"domain":[-0.43,0.43]},"axis":{"values":[-0.35,0,0.35],"labels":false,"title":null}},"y":{"field":"m","type":"quantitative","scale":{"domain":[0,0.035]},"axis":{"values":[0,0.01,0.02,0.03],"labels":false,"title":null}}},"layer":[{"mark":"bar"},{"mark":"errorbar","encoding":{"yError":{"field":"e"}}}]},
{"width":129,"height":66,"transform":[{"filter":"datum.g=='A'&&datum.r=='PCC'&&datum.c=='CA1'"}],"encoding":{"x":{"field":"t","type":"quantitative","scale":{"domain":[-0.43,0.43]},"axis":{"values":[-0.35,0,0.35],"labels":false,"title":null}},"y":{"field":"m","type":"quantitative","scale":{"domain":[0,0.035]},"axis":{"values":[0,0.01,0.02,0.03],"labels":false,"title":null}}},"layer":[{"mark":"bar"},{"mark":"errorbar","encoding":{"yError":{"field":"e"}}}]},
{"width":129,"height":66,"transform":[{"filter":"datum.g=='A'&&datum.r=='RSC'&&datum.c=='PFC'"}],"encoding":{"x":{"field":"t","type":"quantitative","scale":{"domain":[-0.43,0.43]},"axis":{"values":[-0.35,0,0.35],"labels":false,"title":null}},"y":{"field":"m","type":"quantitative","scale":{"domain":[0,0.035]},"axis":{"values":[0,0.01,0.02,0.03],"labels":false,"title":"RSC"}}},"layer":[{"mark":"bar"},{"mark":"errorbar","encoding":{"yError":{"field":"e"}}}]},
{"width":129,"height":66,"transform":[{"filter":"datum.g=='A'&&datum.r=='RSC'&&datum.c=='ACC'"}],"encoding":{"x":{"field":"t","type":"quantitative","scale":{"domain":[-0.43,0.43]},"axis":{"values":[-0.35,0,0.35],"labels":false,"title":null}},"y":{"field":"m","type":"quantitative","scale":{"domain":[0,0.035]},"axis":{"values":[0,0.01,0.02,0.03],"labels":false,"title":null}}},"layer":[{"mark":"bar"},{"mark":"errorbar","encoding":{"yError":{"field":"e"}}}]},
{"width":129,"height":66,"transform":[{"filter":"datum.g=='A'&&datum.r=='RSC'&&datum.c=='PCC'"}],"encoding":{"x":{"field":"t","type":"quantitative","scale":{"domain":[-0.43,0.43]},"axis":{"values":[-0.35,0,0.35],"labels":false,"title":null}},"y":{"field":"m","type":"quantitative","scale":{"domain":[0,0.035]},"axis":{"values":[0,0.01,0.02,0.03],"labels":false,"title":null}}},"layer":[{"mark":"bar"},{"mark":"errorbar","encoding":{"yError":{"field":"e"}}}]},
{"width":129,"height":66,"view":{"fill":"#e5e5e5"},"transform":[{"filter":"false"}],"mark":"point","encoding":{"x":{"field":"t","type":"quantitative","scale":{"domain":[-0.43,0.43]},"axis":null},"y":{"field":"m","type":"quantitative","scale":{"domain":[0,0.035]},"axis":null}}},
{"width":129,"height":66,"transform":[{"filter":"datum.g=='A'&&datum.r=='RSC'&&datum.c=='CA1'"}],"encoding":{"x":{"field":"t","type":"quantitative","scale":{"domain":[-0.43,0.43]},"axis":{"values":[-0.35,0,0.35],"labels":false,"title":null}},"y":{"field":"m","type":"quantitative","scale":{"domain":[0,0.035]},"axis":{"values":[0,0.01,0.02,0.03],"labels":false,"title":null}}},"layer":[{"mark":"bar"},{"mark":"errorbar","encoding":{"yError":{"field":"e"}}}]},
{"width":129,"height":66,"transform":[{"filter":"datum.g=='A'&&datum.r=='CA1'&&datum.c=='PFC'"}],"encoding":{"x":{"field":"t","type":"quantitative","scale":{"domain":[-0.43,0.43]},"axis":{"values":[-0.35,0,0.35],"labels":true,"format":".2~f","labelExpr":"replace(datum.label,'−','-')","title":"PFC"}},"y":{"field":"m","type":"quantitative","scale":{"domain":[0,0.035]},"axis":{"values":[0,0.01,0.02,0.03],"labels":true,"format":".2~f","title":"CA1"}}},"layer":[{"mark":"bar"},{"mark":"errorbar","encoding":{"yError":{"field":"e"}}}]},
{"width":129,"height":66,"transform":[{"filter":"datum.g=='A'&&datum.r=='CA1'&&datum.c=='ACC'"}],"encoding":{"x":{"field":"t","type":"quantitative","scale":{"domain":[-0.43,0.43]},"axis":{"values":[-0.35,0,0.35],"labels":false,"title":"ACC"}},"y":{"field":"m","type":"quantitative","scale":{"domain":[0,0.035]},"axis":{"values":[0,0.01,0.02,0.03],"labels":false,"title":null}}},"layer":[{"mark":"bar"},{"mark":"errorbar","encoding":{"yError":{"field":"e"}}}]},
{"width":129,"height":66,"transform":[{"filter":"datum.g=='A'&&datum.r=='CA1'&&datum.c=='PCC'"}],"encoding":{"x":{"field":"t","type":"quantitative","scale":{"domain":[-0.43,0.43]},"axis":{"values":[-0.35,0,0.35],"labels":false,"title":"PCC"}},"y":{"field":"m","type":"quantitative","scale":{"domain":[0,0.035]},"axis":{"values":[0,0.01,0.02,0.03],"labels":false,"title":null}}},"layer":[{"mark":"bar"},{"mark":"errorbar","encoding":{"yError":{"field":"e"}}},{"data":{"name":"s"},"transform":[{"filter":"datum.g=='A'&&datum.r=='CA1'&&datum.c=='PCC'"}],"mark":{"type":"text","color":"#ff3333","fontSize":20,"baseline":"middle","dy":4},"encoding":{"text":{"field":"s"}}}]},
{"width":129,"height":66,"transform":[{"filter":"datum.g=='A'&&datum.r=='CA1'&&datum.c=='RSC'"}],"encoding":{"x":{"field":"t","type":"quantitative","scale":{"domain":[-0.43,0.43]},"axis":{"values":[-0.35,0,0.35],"labels":false,"title":"RSC"}},"y":{"field":"m","type":"quantitative","scale":{"domain":[0,0.035]},"axis":{"values":[0,0.01,0.02,0.03],"labels":false,"title":null}}},"layer":[{"mark":"bar"},{"mark":"errorbar","encoding":{"yError":{"field":"e"}}},{"data":{"name":"s"},"transform":[{"filter":"datum.g=='A'&&datum.r=='CA1'&&datum.c=='RSC'"}],"mark":{"type":"text","color":"#ff3333","fontSize":20,"baseline":"middle","dy":4},"encoding":{"text":{"field":"s"}}}]},
{"width":129,"height":66,"view":{"fill":"#e5e5e5"},"transform":[{"filter":"false"}],"mark":"point","encoding":{"x":{"field":"t","type":"quantitative","scale":{"domain":[-0.43,0.43]},"axis":{"title":"CA1","domain":false,"ticks":false,"labels":false}},"y":{"field":"m","type":"quantitative","scale":{"domain":[0,0.035]},"axis":null}}}
]}]},
{"title":{"text":"Time [s]","orient":"bottom","anchor":"start","frame":"bounds","fontSize":25,"dx":20,"offset":8},"vconcat":[
{"title":{"text":"B","anchor":"start","frame":"bounds","fontSize":28,"dx":-20,"offset":15},"vconcat":[
{"title":{"text":"APP/PS1","fontSize":26,"anchor":"middle","frame":"bounds","dx":22,"offset":-2},"columns":5,"spacing":{"row":5,"column":13.5},"bounds":"flush","align":"all","concat":[
{"width":129,"height":66,"view":{"fill":"#e5e5e5"},"transform":[{"filter":"false"}],"mark":"point","encoding":{"x":{"field":"t","type":"quantitative","scale":{"domain":[-0.43,0.43]},"axis":null},"y":{"field":"m","type":"quantitative","scale":{"domain":[0,0.035]},"axis":{"title":"PFC","domain":false,"ticks":false,"labels":false}}}},
{"width":129,"height":66,"transform":[{"filter":"datum.g=='B'&&datum.r=='PFC'&&datum.c=='ACC'"}],"encoding":{"x":{"field":"t","type":"quantitative","scale":{"domain":[-0.43,0.43]},"axis":{"values":[-0.35,0,0.35],"labels":false,"title":null}},"y":{"field":"m","type":"quantitative","scale":{"domain":[0,0.035]},"axis":{"values":[0,0.01,0.02,0.03],"labels":false,"title":null}}},"layer":[{"mark":"bar"},{"mark":"errorbar","encoding":{"yError":{"field":"e"}}}]},
{"width":129,"height":66,"transform":[{"filter":"datum.g=='B'&&datum.r=='PFC'&&datum.c=='PCC'"}],"encoding":{"x":{"field":"t","type":"quantitative","scale":{"domain":[-0.43,0.43]},"axis":{"values":[-0.35,0,0.35],"labels":false,"title":null}},"y":{"field":"m","type":"quantitative","scale":{"domain":[0,0.035]},"axis":{"values":[0,0.01,0.02,0.03],"labels":false,"title":null}}},"layer":[{"mark":"bar"},{"mark":"errorbar","encoding":{"yError":{"field":"e"}}}]},
{"width":129,"height":66,"transform":[{"filter":"datum.g=='B'&&datum.r=='PFC'&&datum.c=='RSC'"}],"encoding":{"x":{"field":"t","type":"quantitative","scale":{"domain":[-0.43,0.43]},"axis":{"values":[-0.35,0,0.35],"labels":false,"title":null}},"y":{"field":"m","type":"quantitative","scale":{"domain":[0,0.035]},"axis":{"values":[0,0.01,0.02,0.03],"labels":false,"title":null}}},"layer":[{"mark":"bar"},{"mark":"errorbar","encoding":{"yError":{"field":"e"}}}]},
{"width":129,"height":66,"transform":[{"filter":"datum.g=='B'&&datum.r=='PFC'&&datum.c=='CA1'"}],"encoding":{"x":{"field":"t","type":"quantitative","scale":{"domain":[-0.43,0.43]},"axis":{"values":[-0.35,0,0.35],"labels":false,"title":null}},"y":{"field":"m","type":"quantitative","scale":{"domain":[0,0.035]},"axis":{"values":[0,0.01,0.02,0.03],"labels":false,"title":null}}},"layer":[{"mark":"bar"},{"mark":"errorbar","encoding":{"yError":{"field":"e"}}}]},
{"width":129,"height":66,"transform":[{"filter":"datum.g=='B'&&datum.r=='ACC'&&datum.c=='PFC'"}],"encoding":{"x":{"field":"t","type":"quantitative","scale":{"domain":[-0.43,0.43]},"axis":{"values":[-0.35,0,0.35],"labels":false,"title":null}},"y":{"field":"m","type":"quantitative","scale":{"domain":[0,0.035]},"axis":{"values":[0,0.01,0.02,0.03],"labels":false,"title":"ACC"}}},"layer":[{"mark":"bar"},{"mark":"errorbar","encoding":{"yError":{"field":"e"}}}]},
{"width":129,"height":66,"view":{"fill":"#e5e5e5"},"transform":[{"filter":"false"}],"mark":"point","encoding":{"x":{"field":"t","type":"quantitative","scale":{"domain":[-0.43,0.43]},"axis":null},"y":{"field":"m","type":"quantitative","scale":{"domain":[0,0.035]},"axis":null}}},
{"width":129,"height":66,"transform":[{"filter":"datum.g=='B'&&datum.r=='ACC'&&datum.c=='PCC'"}],"encoding":{"x":{"field":"t","type":"quantitative","scale":{"domain":[-0.43,0.43]},"axis":{"values":[-0.35,0,0.35],"labels":false,"title":null}},"y":{"field":"m","type":"quantitative","scale":{"domain":[0,0.035]},"axis":{"values":[0,0.01,0.02,0.03],"labels":false,"title":null}}},"layer":[{"mark":"bar"},{"mark":"errorbar","encoding":{"yError":{"field":"e"}}}]},
{"width":129,"height":66,"transform":[{"filter":"datum.g=='B'&&datum.r=='ACC'&&datum.c=='RSC'"}],"encoding":{"x":{"field":"t","type":"quantitative","scale":{"domain":[-0.43,0.43]},"axis":{"values":[-0.35,0,0.35],"labels":false,"title":null}},"y":{"field":"m","type":"quantitative","scale":{"domain":[0,0.035]},"axis":{"values":[0,0.01,0.02,0.03],"labels":false,"title":null}}},"layer":[{"mark":"bar"},{"mark":"errorbar","encoding":{"yError":{"field":"e"}}}]},
{"width":129,"height":66,"transform":[{"filter":"datum.g=='B'&&datum.r=='ACC'&&datum.c=='CA1'"}],"encoding":{"x":{"field":"t","type":"quantitative","scale":{"domain":[-0.43,0.43]},"axis":{"values":[-0.35,0,0.35],"labels":false,"title":null}},"y":{"field":"m","type":"quantitative","scale":{"domain":[0,0.035]},"axis":{"values":[0,0.01,0.02,0.03],"labels":false,"title":null}}},"layer":[{"mark":"bar"},{"mark":"errorbar","encoding":{"yError":{"field":"e"}}}]},
{"width":129,"height":66,"transform":[{"filter":"datum.g=='B'&&datum.r=='PCC'&&datum.c=='PFC'"}],"encoding":{"x":{"field":"t","type":"quantitative","scale":{"domain":[-0.43,0.43]},"axis":{"values":[-0.35,0,0.35],"labels":false,"title":null}},"y":{"field":"m","type":"quantitative","scale":{"domain":[0,0.035]},"axis":{"values":[0,0.01,0.02,0.03],"labels":false,"title":"PCC"}}},"layer":[{"mark":"bar"},{"mark":"errorbar","encoding":{"yError":{"field":"e"}}}]},
{"width":129,"height":66,"transform":[{"filter":"datum.g=='B'&&datum.r=='PCC'&&datum.c=='ACC'"}],"encoding":{"x":{"field":"t","type":"quantitative","scale":{"domain":[-0.43,0.43]},"axis":{"values":[-0.35,0,0.35],"labels":false,"title":null}},"y":{"field":"m","type":"quantitative","scale":{"domain":[0,0.035]},"axis":{"values":[0,0.01,0.02,0.03],"labels":false,"title":null}}},"layer":[{"mark":"bar"},{"mark":"errorbar","encoding":{"yError":{"field":"e"}}}]},
{"width":129,"height":66,"view":{"fill":"#e5e5e5"},"transform":[{"filter":"false"}],"mark":"point","encoding":{"x":{"field":"t","type":"quantitative","scale":{"domain":[-0.43,0.43]},"axis":null},"y":{"field":"m","type":"quantitative","scale":{"domain":[0,0.035]},"axis":null}}},
{"width":129,"height":66,"transform":[{"filter":"datum.g=='B'&&datum.r=='PCC'&&datum.c=='RSC'"}],"encoding":{"x":{"field":"t","type":"quantitative","scale":{"domain":[-0.43,0.43]},"axis":{"values":[-0.35,0,0.35],"labels":false,"title":null}},"y":{"field":"m","type":"quantitative","scale":{"domain":[0,0.035]},"axis":{"values":[0,0.01,0.02,0.03],"labels":false,"title":null}}},"layer":[{"mark":"bar"},{"mark":"errorbar","encoding":{"yError":{"field":"e"}}}]},
{"width":129,"height":66,"transform":[{"filter":"datum.g=='B'&&datum.r=='PCC'&&datum.c=='CA1'"}],"encoding":{"x":{"field":"t","type":"quantitative","scale":{"domain":[-0.43,0.43]},"axis":{"values":[-0.35,0,0.35],"labels":false,"title":null}},"y":{"field":"m","type":"quantitative","scale":{"domain":[0,0.035]},"axis":{"values":[0,0.01,0.02,0.03],"labels":false,"title":null}}},"layer":[{"mark":"bar"},{"mark":"errorbar","encoding":{"yError":{"field":"e"}}}]},
{"width":129,"height":66,"transform":[{"filter":"datum.g=='B'&&datum.r=='RSC'&&datum.c=='PFC'"}],"encoding":{"x":{"field":"t","type":"quantitative","scale":{"domain":[-0.43,0.43]},"axis":{"values":[-0.35,0,0.35],"labels":false,"title":null}},"y":{"field":"m","type":"quantitative","scale":{"domain":[0,0.035]},"axis":{"values":[0,0.01,0.02,0.03],"labels":false,"title":"RSC"}}},"layer":[{"mark":"bar"},{"mark":"errorbar","encoding":{"yError":{"field":"e"}}}]},
{"width":129,"height":66,"transform":[{"filter":"datum.g=='B'&&datum.r=='RSC'&&datum.c=='ACC'"}],"encoding":{"x":{"field":"t","type":"quantitative","scale":{"domain":[-0.43,0.43]},"axis":{"values":[-0.35,0,0.35],"labels":false,"title":null}},"y":{"field":"m","type":"quantitative","scale":{"domain":[0,0.035]},"axis":{"values":[0,0.01,0.02,0.03],"labels":false,"title":null}}},"layer":[{"mark":"bar"},{"mark":"errorbar","encoding":{"yError":{"field":"e"}}}]},
{"width":129,"height":66,"transform":[{"filter":"datum.g=='B'&&datum.r=='RSC'&&datum.c=='PCC'"}],"encoding":{"x":{"field":"t","type":"quantitative","scale":{"domain":[-0.43,0.43]},"axis":{"values":[-0.35,0,0.35],"labels":false,"title":null}},"y":{"field":"m","type":"quantitative","scale":{"domain":[0,0.035]},"axis":{"values":[0,0.01,0.02,0.03],"labels":false,"title":null}}},"layer":[{"mark":"bar"},{"mark":"errorbar","encoding":{"yError":{"field":"e"}}}]},
{"width":129,"height":66,"view":{"fill":"#e5e5e5"},"transform":[{"filter":"false"}],"mark":"point","encoding":{"x":{"field":"t","type":"quantitative","scale":{"domain":[-0.43,0.43]},"axis":null},"y":{"field":"m","type":"quantitative","scale":{"domain":[0,0.035]},"axis":null}}},
{"width":129,"height":66,"transform":[{"filter":"datum.g=='B'&&datum.r=='RSC'&&datum.c=='CA1'"}],"encoding":{"x":{"field":"t","type":"quantitative","scale":{"domain":[-0.43,0.43]},"axis":{"values":[-0.35,0,0.35],"labels":false,"title":null}},"y":{"field":"m","type":"quantitative","scale":{"domain":[0,0.035]},"axis":{"values":[0,0.01,0.02,0.03],"labels":false,"title":null}}},"layer":[{"mark":"bar"},{"mark":"errorbar","encoding":{"yError":{"field":"e"}}}]},
{"width":129,"height":66,"transform":[{"filter":"datum.g=='B'&&datum.r=='CA1'&&datum.c=='PFC'"}],"encoding":{"x":{"field":"t","type":"quantitative","scale":{"domain":[-0.43,0.43]},"axis":{"values":[-0.35,0,0.35],"labels":true,"format":".2~f","labelExpr":"replace(datum.label,'−','-')","title":"PFC"}},"y":{"field":"m","type":"quantitative","scale":{"domain":[0,0.035]},"axis":{"values":[0,0.01,0.02,0.03],"labels":true,"format":".2~f","title":"CA1"}}},"layer":[{"mark":"bar"},{"mark":"errorbar","encoding":{"yError":{"field":"e"}}},{"data":{"name":"s"},"transform":[{"filter":"datum.g=='B'&&datum.r=='CA1'&&datum.c=='PFC'"}],"mark":{"type":"text","color":"#ff3333","fontSize":20,"baseline":"middle","dy":4},"encoding":{"text":{"field":"s"}}}]},
{"width":129,"height":66,"transform":[{"filter":"datum.g=='B'&&datum.r=='CA1'&&datum.c=='ACC'"}],"encoding":{"x":{"field":"t","type":"quantitative","scale":{"domain":[-0.43,0.43]},"axis":{"values":[-0.35,0,0.35],"labels":false,"title":"ACC"}},"y":{"field":"m","type":"quantitative","scale":{"domain":[0,0.035]},"axis":{"values":[0,0.01,0.02,0.03],"labels":false,"title":null}}},"layer":[{"mark":"bar"},{"mark":"errorbar","encoding":{"yError":{"field":"e"}}},{"data":{"name":"s"},"transform":[{"filter":"datum.g=='B'&&datum.r=='CA1'&&datum.c=='ACC'"}],"mark":{"type":"text","color":"#ff3333","fontSize":20,"baseline":"middle","dy":4},"encoding":{"text":{"field":"s"}}}]},
{"width":129,"height":66,"transform":[{"filter":"datum.g=='B'&&datum.r=='CA1'&&datum.c=='PCC'"}],"encoding":{"x":{"field":"t","type":"quantitative","scale":{"domain":[-0.43,0.43]},"axis":{"values":[-0.35,0,0.35],"labels":false,"title":"PCC"}},"y":{"field":"m","type":"quantitative","scale":{"domain":[0,0.035]},"axis":{"values":[0,0.01,0.02,0.03],"labels":false,"title":null}}},"layer":[{"mark":"bar"},{"mark":"errorbar","encoding":{"yError":{"field":"e"}}}]},
{"width":129,"height":66,"transform":[{"filter":"datum.g=='B'&&datum.r=='CA1'&&datum.c=='RSC'"}],"encoding":{"x":{"field":"t","type":"quantitative","scale":{"domain":[-0.43,0.43]},"axis":{"values":[-0.35,0,0.35],"labels":false,"title":"RSC"}},"y":{"field":"m","type":"quantitative","scale":{"domain":[0,0.035]},"axis":{"values":[0,0.01,0.02,0.03],"labels":false,"title":null}}},"layer":[{"mark":"bar"},{"mark":"errorbar","encoding":{"yError":{"field":"e"}}}]},
{"width":129,"height":66,"view":{"fill":"#e5e5e5"},"transform":[{"filter":"false"}],"mark":"point","encoding":{"x":{"field":"t","type":"quantitative","scale":{"domain":[-0.43,0.43]},"axis":{"title":"CA1","domain":false,"ticks":false,"labels":false}},"y":{"field":"m","type":"quantitative","scale":{"domain":[0,0.035]},"axis":null}}}
]}]}]}
]
}
